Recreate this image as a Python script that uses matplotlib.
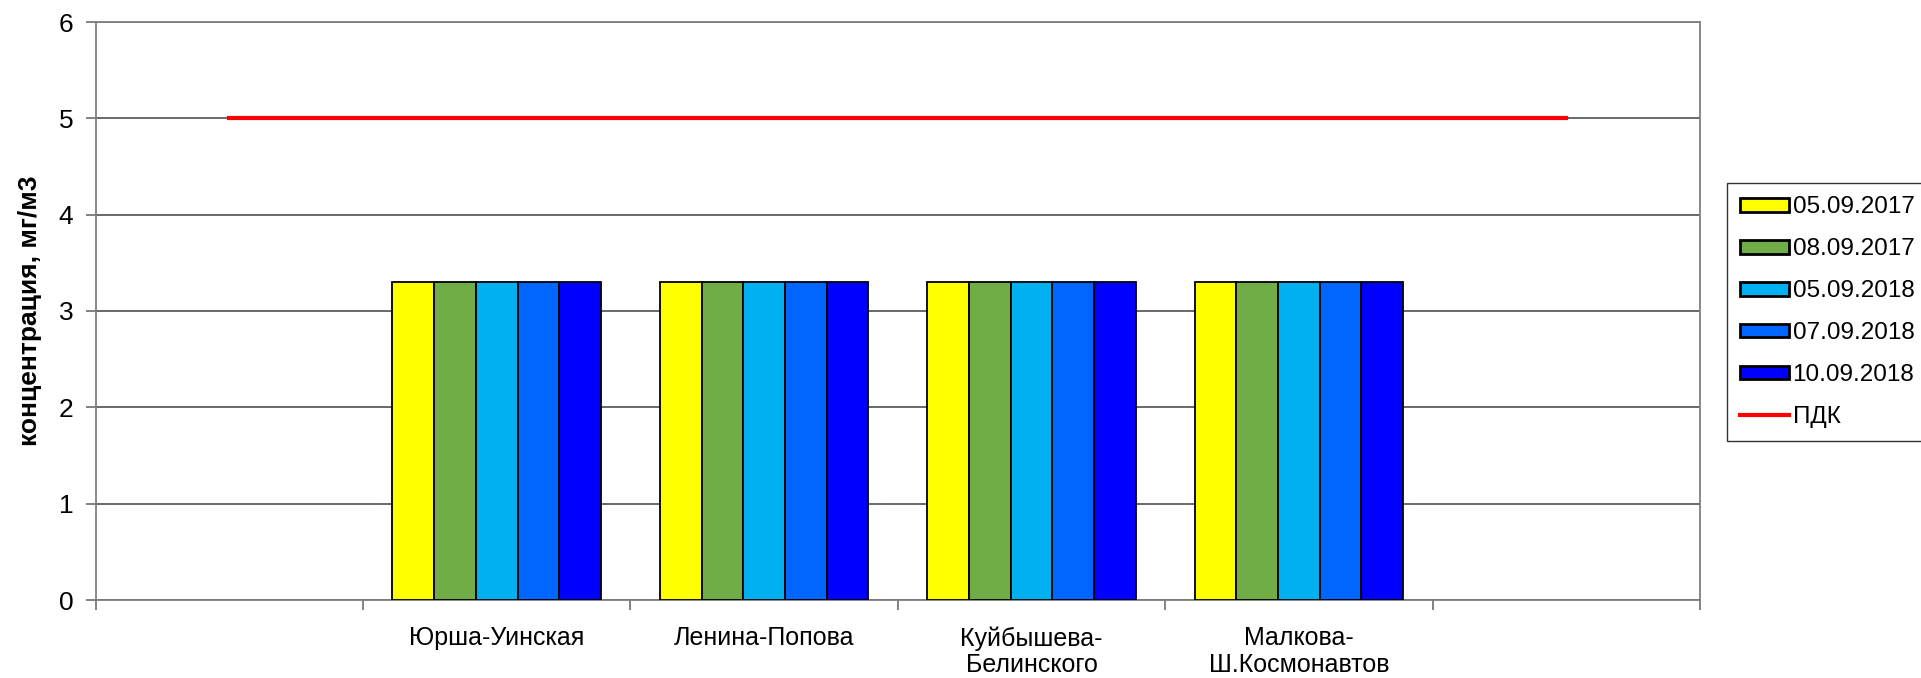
import matplotlib
matplotlib.use("Agg")
import matplotlib.pyplot as plt
import numpy as np

plt.rcParams['font.family'] = ['Liberation Sans', 'DejaVu Sans']

# categories (first and last are empty slots, as in the source sheet)
categories = ["", "Юрша-Уинская", "Ленина-Попова", "Куйбышева-\nБелинского",
              "Малкова-\nШ.Космонавтов", ""]
series_names = ["05.09.2017", "08.09.2017", "05.09.2018", "07.09.2018", "10.09.2018"]
series_values = [
    [np.nan, 3.3, 3.3, 3.3, 3.3, np.nan],
    [np.nan, 3.3, 3.3, 3.3, 3.3, np.nan],
    [np.nan, 3.3, 3.3, 3.3, 3.3, np.nan],
    [np.nan, 3.3, 3.3, 3.3, 3.3, np.nan],
    [np.nan, 3.3, 3.3, 3.3, 3.3, np.nan],
]
series_colors = ["#FFFF00", "#70AD47", "#00B0F0", "#0066FF", "#0000FF"]
pdk = [5, 5, 5, 5, 5, 5]

W, H = 1921, 678
fig = plt.figure(figsize=(W / 100, H / 100), dpi=100)
ax = fig.add_axes([95.6 / W, (H - 600) / H, (1700 - 95.6) / W, (600 - 22) / H])

x = np.arange(len(categories))
group_w = 0.78
bw = group_w / len(series_names)
handles = []
for i, (name, vals, col) in enumerate(zip(series_names, series_values, series_colors)):
    offs = -group_w / 2 + bw * (i + 0.5)
    b = ax.bar(x + offs, vals, bw, color=col, edgecolor="black", linewidth=1.3,
               label=name, zorder=3)
    handles.append(b)

ln, = ax.plot(x, pdk, color="#FF0000", linewidth=3, label="ПДК", zorder=4)
handles.append(ln)

ax.set_xlim(-0.5, len(categories) - 0.5)
ax.set_ylim(0, 6)
ax.set_yticks(range(0, 7))
ax.yaxis.grid(True, color="#404040", linewidth=1.1, zorder=0)
ax.set_axisbelow(True)

ax.set_xticks(x)
ax.set_xticklabels(categories, fontsize=18, linespacing=1.12)
ax.set_xticks(np.arange(-0.5, len(categories)), minor=True)
ax.tick_params(axis="x", which="major", length=0, pad=19)
ax.tick_params(axis="x", which="minor", length=7, width=1.1, color="#606060", direction="out")
ax.tick_params(axis="y", length=7, width=1.1, color="#606060", labelsize=19, pad=9)

for s in ax.spines.values():
    s.set_color("#7f7f7f")
    s.set_linewidth(1.3)

ax.set_ylabel("концентрация, мг/м3", fontsize=19, fontweight="bold", labelpad=12)

leg = fig.legend(handles=handles, labels=series_names + ["ПДК"],
                 loc="upper left", bbox_to_anchor=(1727 / W, 1 - 183 / H),
                 fontsize=17.5, frameon=True, fancybox=False, edgecolor="black",
                 handlelength=2.0, handleheight=0.5, handletextpad=0.15,
                 labelspacing=0.82, borderpad=0.55, borderaxespad=0)
leg.get_frame().set_linewidth(1.0)
for p in leg.get_patches():
    p.set_linewidth(2.0)

fig.savefig("out.png", dpi=100)
